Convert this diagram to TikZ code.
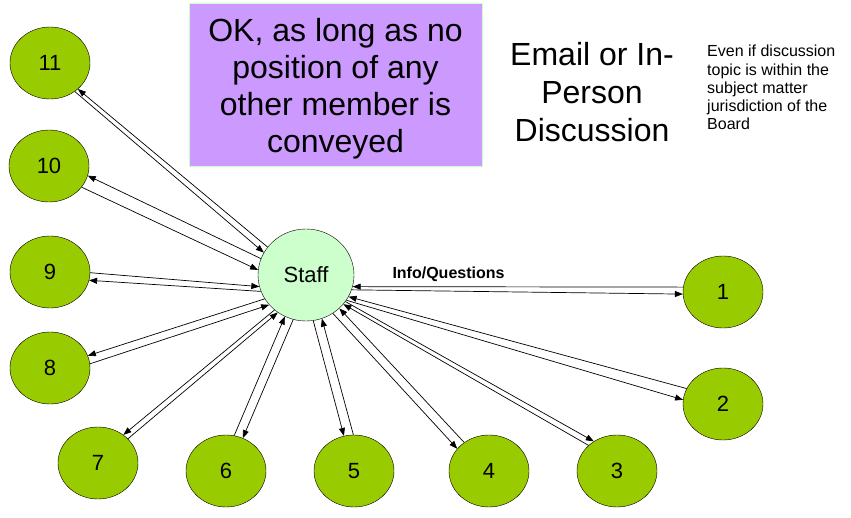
\documentclass[tikz,border=0pt]{standalone}
\usepackage{fontspec}
\setmainfont{Liberation Sans}
\usetikzlibrary{arrows.meta,shapes.geometric}

\definecolor{membergreen}{HTML}{99CC00}
\definecolor{staffgreen}{HTML}{CCFFCC}
\definecolor{notepurple}{HTML}{CC99FF}

\tikzset{
  member/.style={ellipse,draw,fill=membergreen,minimum width=80pt,minimum height=72pt,
    inner sep=0pt,font=\fontsize{22}{26}\selectfont},
  link/.style={-{Triangle[length=8pt,width=6pt]},line width=0.7pt},
}

\begin{document}
\begin{tikzpicture}[x=1pt,y=-1pt]
\useasboundingbox (0,0) rectangle (851,518);

\node[ellipse,draw,fill=staffgreen,minimum width=96pt,minimum height=92pt,
  font=\fontsize{22}{26}\selectfont] (staff) at (306,275) {Staff};

% board members
\node[member] (m1) at (723,292) {1};
\node[member] (m2) at (723,404) {2};
\node[member] (m3) at (617,471) {3};
\node[member] (m4) at (489,471) {4};
\node[member] (m5) at (354,471) {5};
\node[member] (m6) at (226,471) {6};
\node[member] (m7) at (98,463) {7};
\node[member] (m8) at (50,368) {8};
\node[member] (m9) at (50,272) {9};
\node[member] (m10) at (49,166) {10};
\node[member] (m11) at (50,63) {11};

% staff <-> member, two lines each
\draw[link] (m1.173) -- (staff.-14.9)
  node[pos=0.71,above=5pt,inner sep=0pt,font=\bfseries\fontsize{16}{19}\selectfont] {Info/Questions};
\draw[link] (staff.-18.4) -- (m1.-177.2);
\foreach \m/\so/\mo/\mi/\si in {2/-32.4/174.7/157.2/-27.9, 3/-34.5/128.9/138.8/-38.5,
    4/-55.8/145.9/131.9/-45.8, 5/-81.3/106/91.6/-70.5, 6/-106.8/63.4/77.5/-117.5,
    7/-132.9/48/39/-127.5, 8/-150.4/18.4/6/-141.2, 9/-160.5/-12.4/-1.4/-166,
    10/160.5/-14.7/-33/174.4, 11/144/-43/-49/152}{
  \draw[link] (staff.\so) -- (m\m.\mo);
  \draw[link] (m\m.\mi) -- (staff.\si);
}

\node[draw=staffgreen,fill=notepurple,minimum width=293pt,minimum height=163pt,inner sep=0pt,
  align=center,font=\fontsize{32}{37}\selectfont] (note) at (335.5,84.5)
  {\rule{0pt}{31pt}OK, as long as no\\position of any\\other member is\\conveyed};

\node[align=center,font=\fontsize{32}{38}\selectfont] (mode) at (592,92)
  {Email or In-\\Person\\Discussion};

\node[anchor=north west,align=left,inner sep=0pt,font=\fontsize{16}{18.3}\selectfont] (caveat)
  at (707,45) {Even if discussion\\topic is within the\\subject matter\\jurisdiction of the\\Board};
\end{tikzpicture}
\end{document}
